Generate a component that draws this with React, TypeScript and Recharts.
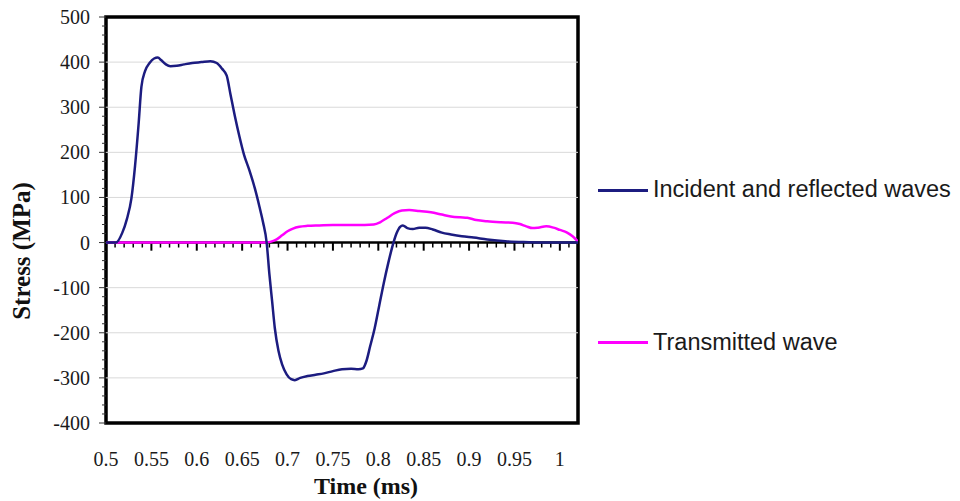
import React from 'react';
import {
  LineChart,
  Line,
  XAxis,
  YAxis,
  ReferenceLine,
  ReferenceArea,
} from 'recharts';

// time (ms) and stress (MPa)
const incidentTime = [
  0.5, 0.511, 0.518, 0.523, 0.528, 0.532, 0.536, 0.539, 0.543, 0.548, 0.553, 0.557,
  0.561, 0.566, 0.571, 0.578, 0.586, 0.595, 0.605, 0.615, 0.622, 0.628, 0.633, 0.637,
  0.642, 0.647, 0.652, 0.658, 0.664, 0.669, 0.673, 0.677, 0.68, 0.683, 0.686, 0.69,
  0.694, 0.699, 0.704, 0.708, 0.714, 0.722, 0.731, 0.74, 0.75, 0.76, 0.77, 0.778,
  0.783, 0.787, 0.791, 0.796, 0.801, 0.806, 0.811, 0.816, 0.82, 0.824, 0.827, 0.832,
  0.838, 0.845, 0.852, 0.86, 0.87, 0.88, 0.892, 0.905, 0.92, 0.94, 0.96, 0.98, 1.0, 1.021,
];
const incidentStress = [
  0, 0, 22, 52, 98, 170, 265, 345, 380, 398, 408, 410,
  404, 395, 391, 392, 395, 398, 400, 402, 398, 385, 370, 330,
  280, 235, 195, 160, 120, 80, 45, 0, -70, -130, -190, -240,
  -270, -292, -303, -305, -300, -296, -293, -290, -285, -281, -280, -281,
  -279, -262, -230, -190, -140, -90, -45, -5, 20, 35, 38, 32,
  30, 33, 33, 29, 22, 18, 14, 11, 7, 3, 1, 0, 0, 0,
];

const transmittedTime = [
  0.5, 0.675, 0.682, 0.688, 0.694, 0.7, 0.706, 0.713, 0.722, 0.735, 0.75, 0.77,
  0.785, 0.795, 0.802, 0.81, 0.818, 0.826, 0.834, 0.845, 0.858, 0.87, 0.88, 0.89,
  0.898, 0.908, 0.92, 0.935, 0.948, 0.956, 0.963, 0.97, 0.976, 0.985, 0.993, 1.0,
  1.008, 1.014, 1.021,
];
const transmittedStress = [
  0, 0, 2, 7, 16, 25, 31, 35, 37, 38, 39, 39,
  39, 40, 45, 55, 65, 71, 72, 70, 67, 62, 58, 56,
  55, 50, 47, 45, 44, 41, 36, 32, 33, 36, 33, 28,
  22, 14, 0,
];

const xTicks = [0.5, 0.55, 0.6, 0.65, 0.7, 0.75, 0.8, 0.85, 0.9, 0.95, 1];
const yLabels = [500, 400, 300, 200, 100, 0, -100, -200, -300, -400];
const gridValues = [400, 300, 200, 100, -100, -200, -300];

const minorX = Array.from({ length: 52 }, (_, i) => Math.round((0.51 + i * 0.01) * 100) / 100);
const minorY = Array.from({ length: 46 }, (_, i) => -400 + i * 20);

const incident = incidentTime.map((t, i) => ({ t, v: incidentStress[i] }));
const transmitted = transmittedTime.map((t, i) => ({ t, v: transmittedStress[i] }));

const serif = '"Liberation Serif", "Times New Roman", serif';
const sans = '"Liberation Sans", Arial, sans-serif';
const NAVY = '#1c1c80';
const MAGENTA = '#ff00ff';

const YTick = (props: any) => {
  const { x, y, payload } = props;
  const v = payload.value;
  const major = yLabels.includes(v);
  return (
    <g>
      <line x1={x - (major ? 7 : 4)} x2={x} y1={y} y2={y} stroke="#333" strokeWidth={1} />
      {major && (
        <text x={x - 16} y={y} dy={7} textAnchor="end" fontFamily={serif} fontSize={20} fill="#1a1a1a">
          {v}
        </text>
      )}
    </g>
  );
};

const XTick = (props: any) => {
  const { x, y, payload } = props;
  const label = String(Number(payload.value.toFixed(2)));
  return (
    <text x={x} y={y + 43} textAnchor="middle" fontFamily={serif} fontSize={20} fill="#1a1a1a">
      {label}
    </text>
  );
};

export default function App() {
  return (
    <div style={{ position: 'absolute', left: 0, top: 0, width: 960, height: 501, background: '#fff' }}>
      <LineChart
        width={960}
        height={501}
        margin={{ top: 17, right: 382, bottom: 0, left: 0 }}
      >
        <XAxis
          type="number"
          dataKey="t"
          domain={[0.5, 1.02]}
          ticks={xTicks}
          allowDataOverflow
          axisLine={false}
          tickLine={false}
          tickSize={0}
          tickMargin={0}
          height={78}
          tick={<XTick />}
          interval={0}
        />
        <YAxis
          type="number"
          domain={[-400, 500]}
          ticks={minorY}
          width={106}
          axisLine={false}
          tickLine={false}
          tickSize={0}
          tickMargin={0}
          tick={<YTick />}
          interval={0}
        />
        {gridValues.map((g) => (
          <ReferenceLine key={`g${g}`} y={g} stroke="#d9d9d9" strokeWidth={1} />
        ))}
        <ReferenceLine y={0} stroke="#000" strokeWidth={2.5} />
        {minorX.map((t) => {
          const major = Math.abs(t * 20 - Math.round(t * 20)) < 1e-6;
          return (
            <ReferenceLine
              key={`m${t}`}
              segment={[
                { x: t, y: 0 },
                { x: t, y: major ? -18 : -11 },
              ]}
              stroke="#000"
              strokeWidth={major ? 2 : 1.5}
            />
          );
        })}
        <Line
          data={transmitted}
          dataKey="v"
          type="monotone"
          stroke={MAGENTA}
          strokeWidth={2.5}
          dot={false}
          isAnimationActive={false}
        />
        <Line
          data={incident}
          dataKey="v"
          type="monotone"
          stroke={NAVY}
          strokeWidth={2.5}
          dot={false}
          isAnimationActive={false}
        />
        <ReferenceArea
          x1={0.5}
          x2={1.02}
          y1={-400}
          y2={500}
          fill="none"
          fillOpacity={0}
          stroke="#000"
          strokeWidth={3.5}
        />
        <text
          x={366}
          y={494}
          textAnchor="middle"
          fontFamily={serif}
          fontWeight="bold"
          fontSize={24}
          fill="#111"
        >
          Time (ms)
        </text>
        <text
          x={0}
          y={0}
          transform="translate(30 251) rotate(-90)"
          textAnchor="middle"
          fontFamily={serif}
          fontWeight="bold"
          fontSize={25}
          fill="#111"
        >
          Stress (MPa)
        </text>
      </LineChart>
      <div style={{ position: 'absolute', left: 598, top: 189, width: 50, height: 2.5, background: NAVY }} />
      <div
        style={{
          position: 'absolute',
          left: 653,
          top: 177.5,
          fontFamily: sans,
          fontSize: 23.5,
          lineHeight: 1,
          color: '#1a1a1a',
          whiteSpace: 'nowrap',
        }}
      >
        Incident and reflected waves
      </div>
      <div style={{ position: 'absolute', left: 598, top: 341, width: 50, height: 2.5, background: MAGENTA }} />
      <div
        style={{
          position: 'absolute',
          left: 653,
          top: 330.5,
          fontFamily: sans,
          fontSize: 23.5,
          lineHeight: 1,
          color: '#1a1a1a',
          whiteSpace: 'nowrap',
        }}
      >
        Transmitted wave
      </div>
    </div>
  );
}
